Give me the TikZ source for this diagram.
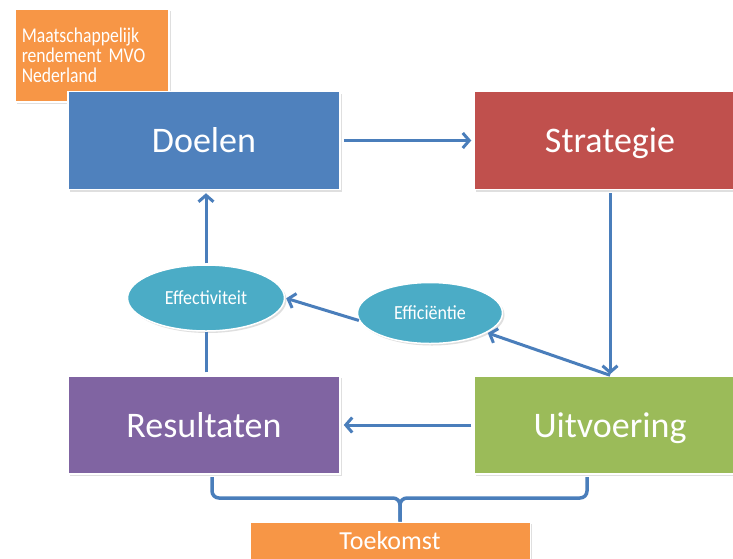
\documentclass[tikz,border=0pt]{standalone}
\usepackage{fontspec}
\setmainfont{Carlito}
\newfontfamily\condfont{Carlito}[FakeStretch=0.84]
\newfontfamily\ovalfont{Carlito}[FakeStretch=0.9]
\usetikzlibrary{arrows.meta,shapes.geometric,shadows,calc}
\definecolor{cblue}{HTML}{4F81BD}
\definecolor{cred}{HTML}{C0504D}
\definecolor{cpurple}{HTML}{8064A2}
\definecolor{cgreen}{HTML}{9BBB59}
\definecolor{corange}{HTML}{F79646}
\definecolor{caqua}{HTML}{4BACC6}
\definecolor{cline}{HTML}{4A7EBB}
\begin{document}
\begin{tikzpicture}[x=1pt,y=-1pt,
  shadowed/.style={drop shadow={opacity=0.25,shadow xshift=2pt,shadow yshift=-2pt}},
  bigbox/.style={shadowed,draw=white,line width=1.5pt,fill=#1,minimum width=272pt,minimum height=98pt,inner sep=0pt,
    text=white,font=\fontsize{36}{40}\selectfont,text height=24pt,text depth=0pt},
  oval/.style={shadowed,ellipse,draw=white,line width=1.5pt,fill=caqua,inner sep=0pt,text=white,
    font=\ovalfont\fontsize{20}{22}\selectfont,text height=13pt,text depth=0pt},
  arr/.style={draw=cline,line width=3pt,-{Straight Barb[length=6.5pt,width=15pt]}},
  plainline/.style={draw=cline,line width=3pt},
  bracestyle/.style={draw=cline,line width=3.5pt,rounded corners=7pt}]
\useasboundingbox (0,0) rectangle (733,558);
\fill[white] (0,0) rectangle (733,558);

\node[shadowed,draw=white,line width=1.5pt,fill=corange,anchor=north west,minimum width=154pt,minimum height=93pt,
      text width=140pt,inner xsep=7pt,inner ysep=0pt,align=left,text=white,
      font=\condfont\fontsize{21}{19.7}\selectfont] (mvo) at (14,8) {Maatschappelijk\\rendement MVO\\Nederland};

\node[bigbox=cblue] (doe) at (204,140.5) {Doelen};
\node[bigbox=cred] (str) at (610,140.5) {Strategie};
\node[bigbox=cpurple] (res) at (204,425) {Resultaten};
\node[bigbox=cgreen] (uit) at (610,425) {Uitvoering};

\node[oval,minimum width=157pt,minimum height=66pt] (eff1) at (206,298) {Effectiviteit};
\node[oval,minimum width=145pt,minimum height=61pt] (eff2) at (430,313) {Efficiëntie};

\node[shadowed,draw=white,line width=1pt,fill=corange,minimum width=280pt,minimum height=38pt,inner sep=0pt,
      text=white,font=\fontsize{26}{30}\selectfont,text height=17pt,text depth=0pt] (toe) at (390,541) {Toekomst};

\draw[arr,shorten <=3pt,shorten >=2pt] (doe.east) -- (str.west);
\draw[arr,shorten <=3pt,shorten >=1pt] (str.south) -- (uit.north);
\draw[arr,shorten >=1pt] (uit.north) -- (eff2);
\draw[arr,shorten >=1pt] (eff2.186) -- (eff1.east);
\draw[arr,shorten >=3pt,shorten <=1pt] (eff1.north) -- (eff1.north |- doe.south);
\draw[plainline,shorten <=3pt] (eff1.south |- res.north) -- (eff1.south);
\draw[arr,shorten <=2pt,shorten >=3pt] (uit.west) -- (res.east);

\coordinate (bl) at (212,477);
\coordinate (br) at (587,477);
\coordinate (bm) at (400,498);
\draw[bracestyle] (bl) |- (bm) -- (bm |- toe.north);
\draw[bracestyle] (br) |- (bm) -- (bm |- toe.north);
\end{tikzpicture}
\end{document}
